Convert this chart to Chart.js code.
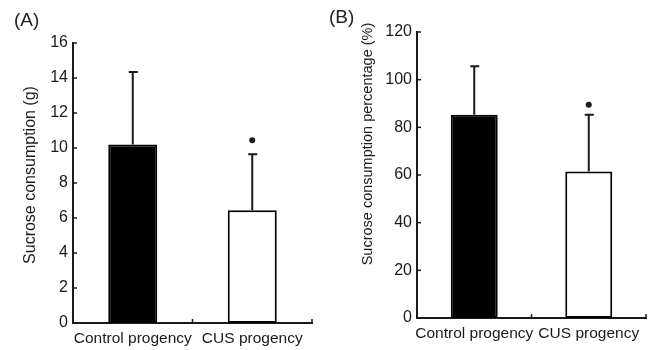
<!DOCTYPE html>
<html>
<head>
<meta charset="utf-8">
<script src="https://cdn.jsdelivr.net/npm/chart.js@4.4.1/dist/chart.umd.min.js"></script>
<style>
  body { margin: 0; background: #fff; width: 665px; height: 350px; position: relative; overflow: hidden; font-family: "Liberation Sans", Arial, sans-serif; }
  canvas { position: absolute; top: 0; }
  .tag { position: absolute; font-size: 19px; color: #222; }
</style>
</head>
<body>
<canvas id="chartA" width="333" height="350" style="left:0"></canvas>
<canvas id="chartB" width="332" height="350" style="left:333px"></canvas>
<div class="tag" style="left:14px;top:9px">(A)</div>
<div class="tag" style="left:329px;top:6px">(B)</div>
<script>
const groups = ['Control progency', 'CUS progency'];

// (A) sucrose consumption, g
const consumption = [10.2, 6.45];
const consumptionErr = [4.15, 3.2];
const consumptionSig = [null, 10.45];

// (B) sucrose consumption percentage, %
const percentage = [85.3, 61.5];
const percentageErr = [20.3, 23.8];
const percentageSig = [null, 89.5];

const INK = '#1a1a1a';
const FONT = 'Liberation Sans, Arial, sans-serif';

// error bars, significance dots, inward tick marks and the rotated y title
const decorPlugin = {
  id: 'decor',
  afterDatasetsDraw(chart, args, opts) {
    const ctx = chart.ctx;
    const meta = chart.getDatasetMeta(0);
    const y = chart.scales.y;
    const x = chart.scales.x;
    const area = chart.chartArea;
    ctx.save();
    ctx.strokeStyle = INK;
    ctx.fillStyle = INK;
    ctx.lineWidth = 2;
    meta.data.forEach((bar, i) => {
      const v = chart.data.datasets[0].data[i];
      const top = y.getPixelForValue(v + opts.err[i]);
      ctx.beginPath();
      ctx.moveTo(bar.x, y.getPixelForValue(v));
      ctx.lineTo(bar.x, top);
      ctx.moveTo(bar.x - 4, top);
      ctx.lineTo(bar.x + 5, top);
      ctx.stroke();
      if (opts.sig[i] != null) {
        ctx.beginPath();
        ctx.arc(bar.x, y.getPixelForValue(opts.sig[i]), 3, 0, Math.PI * 2);
        ctx.fill();
      }
    });
    // inward ticks on y axis
    ctx.lineWidth = 1.5;
    y.ticks.forEach(t => {
      const py = y.getPixelForValue(t.value);
      ctx.beginPath();
      ctx.moveTo(area.left, py);
      ctx.lineTo(area.left + 4, py);
      ctx.stroke();
    });
    // inward ticks at category boundaries on x axis
    for (let i = 1; i <= groups.length; i++) {
      const bx = i < groups.length ? (x.getPixelForValue(i - 1) + x.getPixelForValue(i)) / 2 : area.right;
      ctx.beginPath();
      ctx.moveTo(bx, area.bottom);
      ctx.lineTo(bx, area.bottom - 4);
      ctx.stroke();
    }
    // y title, sits a bit above the plot centre like the original figure
    ctx.translate(opts.titleX, opts.titleY);
    ctx.rotate(-Math.PI / 2);
    ctx.font = opts.titleSize + 'px ' + FONT;
    ctx.textAlign = 'center';
    ctx.textBaseline = 'middle';
    ctx.fillText(opts.title, 0, 0);
    ctx.restore();
  }
};

function makeChart(id, values, err, sig, yMax, step, title, pad, yWidth, xHeight) {
  return new Chart(document.getElementById(id), {
    type: 'bar',
    data: {
      labels: groups,
      datasets: [{
        data: values,
        backgroundColor: ['#000', '#fff'],
        borderColor: '#000',
        borderWidth: 2,
        borderSkipped: false,
        categoryPercentage: 1,
        barPercentage: 0.41
      }]
    },
    options: {
      responsive: false,
      animation: false,
      layout: { padding: pad },
      plugins: {
        legend: { display: false },
        tooltip: { enabled: false },
        decor: { err, sig, ...title }
      },
      scales: {
        x: {
          grid: { display: false, drawTicks: false },
          border: { color: INK, width: 2 },
          ticks: { color: INK, padding: 6, maxRotation: 0, minRotation: 0, autoSkip: false, font: { family: FONT, size: 15.5 } },
          afterFit: s => { s.height = xHeight; }
        },
        y: {
          min: 0,
          max: yMax,
          grid: { display: false, drawTicks: false },
          border: { color: INK, width: 2 },
          ticks: { stepSize: step, color: INK, padding: 5, font: { family: FONT, size: 16 } },
          afterFit: s => { s.width = yWidth; }
        }
      }
    },
    plugins: [decorPlugin]
  });
}

makeChart('chartA', consumption, consumptionErr, consumptionSig, 16, 2,
  { title: 'Sucrose consumption (g)', titleX: 31, titleY: 175, titleSize: 16 },
  { left: 18, right: 21, top: 43, bottom: 0 }, 55, 27);
makeChart('chartB', percentage, percentageErr, percentageSig, 120, 20,
  { title: 'Sucrose consumption percentage (%)', titleX: 34.5, titleY: 144, titleSize: 14.5 },
  { left: 21, right: 19, top: 32, bottom: 0 }, 63, 32);
</script>
</body>
</html>
